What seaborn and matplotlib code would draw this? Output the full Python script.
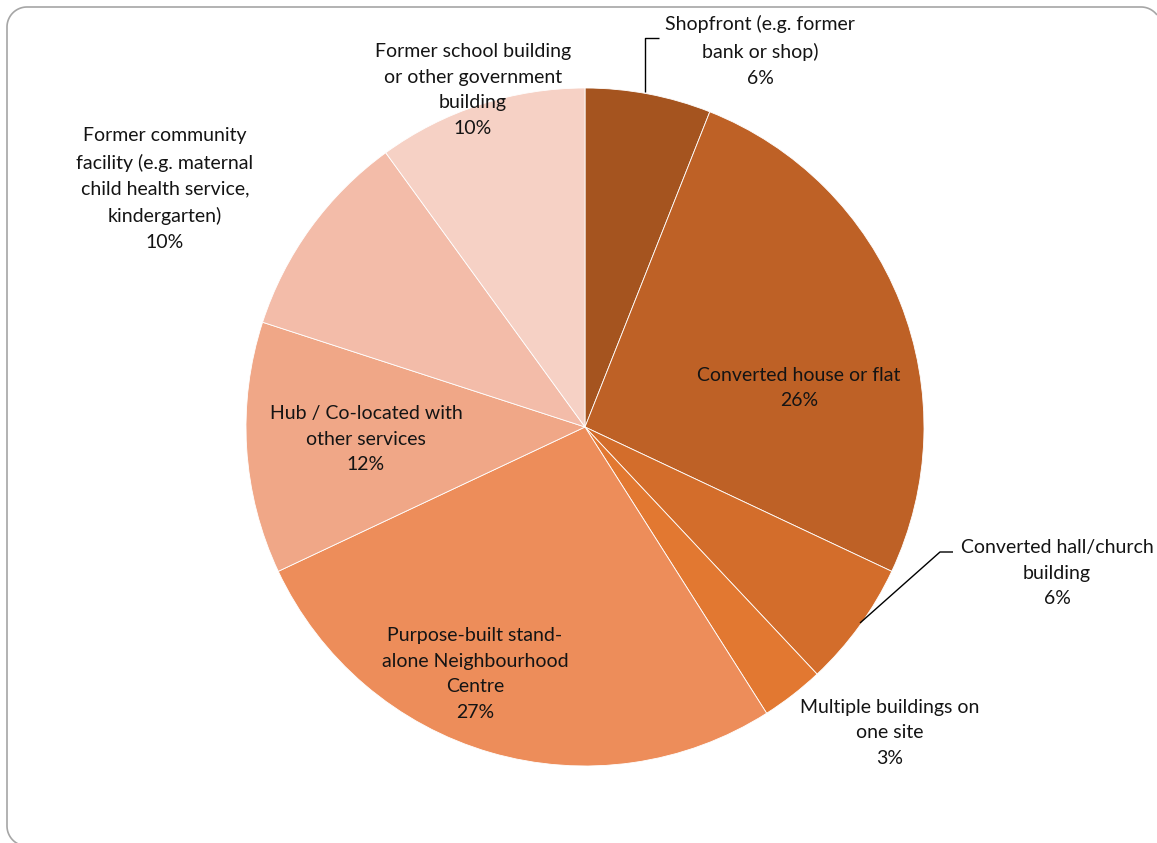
import matplotlib
matplotlib.use("Agg")
import matplotlib.pyplot as plt
from matplotlib.lines import Line2D
import numpy as np
import seaborn as sns

# Share of venues by building type
categories = [
    "Shopfront (e.g. former\nbank or shop)",
    "Converted house or flat",
    "Converted hall/church\nbuilding",
    "Multiple buildings on\none site",
    "Purpose-built stand-\nalone Neighbourhood\nCentre",
    "Hub / Co-located with\nother services",
    "Former community\nfacility (e.g. maternal\nchild health service,\nkindergarten)",
    "Former school building\nor other government\nbuilding",
]
shares = [6, 26, 6, 3, 27, 12, 10, 10]

colors = ["#A5541F", "#BE6126", "#D36D2B", "#E27831",
          "#ED8D5A", "#F0A787", "#F3BCA9", "#F6D1C5"]

sns.set_theme(style="white")
plt.rcParams["font.family"] = ["Lato", "DejaVu Sans"]

W, H = 1157, 843
CX, CY, R = 585, 427, 339  # pie centre and radius in pixels


def to_data(px, py):
    return (px - CX) / R, (CY - py) / R


fig = plt.figure(figsize=(W / 100, H / 100), dpi=100)
ax = fig.add_axes([0, 0, 1, 1])

palette = sns.color_palette(colors)
ax.pie(shares, colors=palette, startangle=90, counterclock=False, radius=1,
       wedgeprops=dict(edgecolor="white", linewidth=0.6))

ax.set_xlim((0 - CX) / R, (W - CX) / R)
ax.set_ylim((CY - H) / R, CY / R)
ax.set_aspect("equal")
ax.axis("off")

# label anchor points (pixel centres of each text block)
label_pos = [(760, 51), (799, 388), (1057, 573), (890, 733),
             (475, 674), (366, 439), (165, 189), (473, 90)]
text_color = "#141414"
for name, val, (px, py) in zip(categories, shares, label_pos):
    x, y = to_data(px, py)
    ax.text(x, y, f"{name}\n{val}%", ha="center", va="center",
            fontsize=14, color=text_color, linespacing=1.62)

# leader lines for labels placed outside the pie
leaders = [
    [(645, 92), (645, 38), (659, 38)],
    [(860, 623), (940, 552), (953, 552)],
]
for pts in leaders:
    xs, ys = zip(*[to_data(px, py) for px, py in pts])
    ax.plot(xs, ys, color="black", linewidth=1.0, solid_capstyle="butt")

# rounded chart-area border (pixel units, origin top-left); only the part
# inside the canvas is traced
left, top, right, bottom, rad = 7, 7, 1161, 846, 20


def arc(cx, cy, a0, a1, n=24):
    t = np.radians(np.linspace(a0, a1, n))
    return list(cx + rad * np.cos(t)), list(cy - rad * np.sin(t))


bx, by = [], []
for seg in [arc(left + rad, bottom - rad, 270, 180),
            arc(left + rad, top + rad, 180, 90),
            arc(right - rad, top + rad, 90, 37)]:
    bx += seg[0]
    by += seg[1]
border = Line2D(np.array(bx) / W, 1 - np.array(by) / H,
                transform=fig.transFigure, color="#A6A6A6", linewidth=1.2,
                solid_capstyle="butt", solid_joinstyle="round")
fig.add_artist(border)

fig.savefig("out.png", dpi=100)
